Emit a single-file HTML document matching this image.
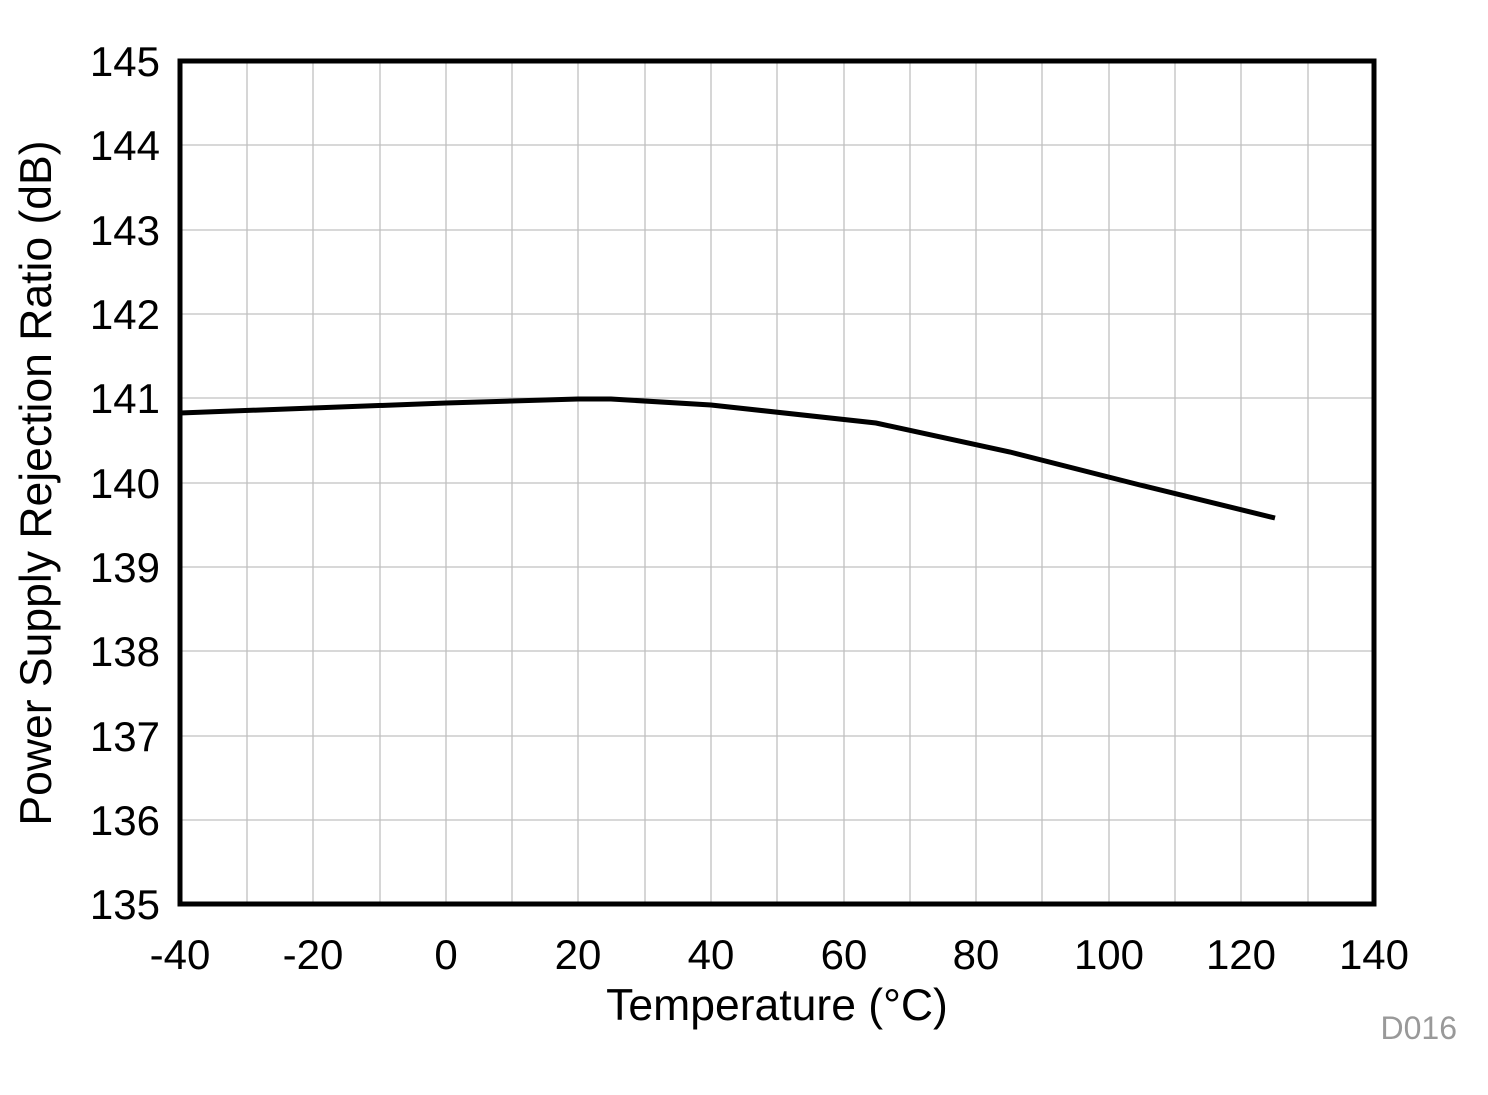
<!DOCTYPE html><html><head><style>body{margin:0;background:#fff}</style></head><body>
<svg width="1488" height="1090" xmlns="http://www.w3.org/2000/svg" font-family="Liberation Sans, Arial, sans-serif">
<g stroke="#c0c0c0" stroke-width="1.3">
<line x1="247" y1="61" x2="247" y2="904"/><line x1="313" y1="61" x2="313" y2="904"/><line x1="380" y1="61" x2="380" y2="904"/><line x1="446" y1="61" x2="446" y2="904"/><line x1="512" y1="61" x2="512" y2="904"/><line x1="578" y1="61" x2="578" y2="904"/><line x1="645" y1="61" x2="645" y2="904"/><line x1="711" y1="61" x2="711" y2="904"/><line x1="777" y1="61" x2="777" y2="904"/><line x1="844" y1="61" x2="844" y2="904"/><line x1="910" y1="61" x2="910" y2="904"/><line x1="976" y1="61" x2="976" y2="904"/><line x1="1042" y1="61" x2="1042" y2="904"/><line x1="1109" y1="61" x2="1109" y2="904"/><line x1="1175" y1="61" x2="1175" y2="904"/><line x1="1241" y1="61" x2="1241" y2="904"/><line x1="1308" y1="61" x2="1308" y2="904"/>
<line x1="180" y1="145" x2="1374" y2="145"/><line x1="180" y1="230" x2="1374" y2="230"/><line x1="180" y1="314" x2="1374" y2="314"/><line x1="180" y1="398" x2="1374" y2="398"/><line x1="180" y1="483" x2="1374" y2="483"/><line x1="180" y1="567" x2="1374" y2="567"/><line x1="180" y1="651" x2="1374" y2="651"/><line x1="180" y1="736" x2="1374" y2="736"/><line x1="180" y1="820" x2="1374" y2="820"/>
</g>
<polyline fill="none" stroke="#000" stroke-width="5" points="180,413 313,408 446,403 578,399 611,399 711,405 876,423 1010,452 1140,485 1275,518"/>
<rect x="180" y="61" width="1194" height="843" fill="none" stroke="#000" stroke-width="5"/>
<g font-size="42" text-anchor="end">
<text x="160" y="76">145</text><text x="160" y="160">144</text><text x="160" y="245">143</text><text x="160" y="329">142</text><text x="160" y="413">141</text><text x="160" y="498">140</text><text x="160" y="582">139</text><text x="160" y="666">138</text><text x="160" y="751">137</text><text x="160" y="835">136</text><text x="160" y="919">135</text>
</g>
<g font-size="42" text-anchor="middle">
<text x="180" y="969">-40</text><text x="313" y="969">-20</text><text x="446" y="969">0</text><text x="578" y="969">20</text><text x="711" y="969">40</text><text x="844" y="969">60</text><text x="976" y="969">80</text><text x="1109" y="969">100</text><text x="1241" y="969">120</text><text x="1374" y="969">140</text>
</g>
<g font-size="44.5" text-anchor="middle">
<text x="777" y="1020">Temperature (°C)</text>
<text transform="translate(51,483) rotate(-90)">Power Supply Rejection Ratio (dB)</text>
</g>
<text x="1457" y="1039" font-size="32" fill="#999" text-anchor="end">D016</text>
</svg></body></html>
